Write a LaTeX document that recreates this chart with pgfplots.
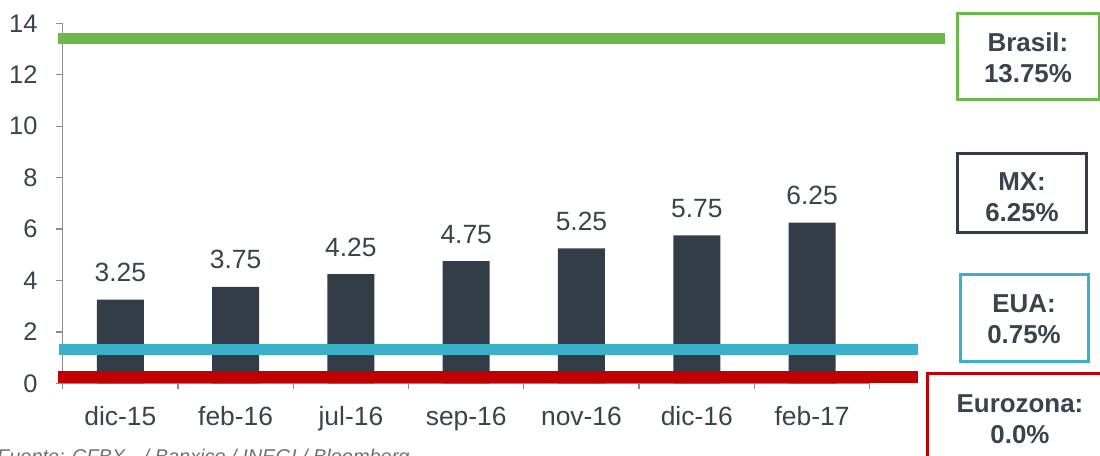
\documentclass[border=0pt]{standalone}
\usepackage{pgfplots}
\pgfplotsset{compat=1.18}
\usepackage{fontspec}
\setmainfont{Liberation Sans}
\definecolor{barc}{HTML}{343D47}
\definecolor{txt}{HTML}{38434E}
\definecolor{grn}{HTML}{6DB84B}
\definecolor{eua}{HTML}{3BB0C9}
\definecolor{ezred}{HTML}{C00000}
\definecolor{axg}{HTML}{8C8C8C}
\begin{document}
\begin{tikzpicture}
\useasboundingbox (0,0) rectangle (1100bp,456bp);
\begin{axis}[
  at={(62.7bp,72.7bp)}, anchor=south west,
  scale only axis, width=807bp, height=360bp,
  xmin=-0.5, xmax=6.5, ymin=0, ymax=14,
  clip=false,
  axis x line*=bottom, axis y line*=left,
  axis line style={axg, line width=1.3bp, -},
  xtick={0,1,2,3,4,5,6},
  xticklabels={dic-15,feb-16,jul-16,sep-16,nov-16,dic-16,feb-17},
  minor xtick={-0.5,0.5,1.5,2.5,3.5,4.5,5.5,6.5},
  major x tick style={draw=none},
  minor x tick style={axg, line width=1.3bp},
  minor tick length=6bp,
  ytick={0,2,...,14},
  major y tick style={axg, line width=1.3bp},
  major tick length=7bp,
  tick align=outside,
  xticklabel style={anchor=base, inner sep=0pt, yshift=-35bp, font=\fontsize{26.5}{31}\selectfont, text=txt},
  yticklabel style={anchor=east, inner sep=0pt, xshift=-18bp, font=\fontsize{25.5}{30}\selectfont, text=txt},
  /pgf/number format/assume math mode=true,
]
\addplot[ybar, bar width=47bp, fill=barc, draw=none,
  nodes near coords,
  nodes near coords style={anchor=base, inner sep=0pt, yshift=18bp, font=\fontsize{26.5}{31}\selectfont, text=txt, /pgf/number format/.cd, fixed, fixed zerofill, precision=2, assume math mode=true}]
  coordinates {(0,3.25) (1,3.75) (2,4.25) (3,4.75) (4,5.25) (5,5.75) (6,6.25)};
\addplot[eua, line width=11bp, line cap=butt] coordinates {(-0.535,1.31) (6.92,1.31)};
\addplot[ezred, line width=11.5bp, line cap=butt] coordinates {(-0.54,0.25) (6.92,0.25)};
\addplot[grn, line width=11bp, line cap=butt] coordinates {(-0.54,13.41) (7.15,13.41)};
\end{axis}
\draw[grn, line width=3bp] (957bp,442bp) rectangle (1099bp,356bp);
\draw[barc, line width=3bp] (957bp,302bp) rectangle (1086bp,223bp);
\draw[eua, line width=3bp] (960bp,181bp) rectangle (1088bp,94bp);
\draw[ezred, line width=3bp] (927bp,82bp) rectangle (1115bp,-30bp);
\node[align=center, text=txt, font=\bfseries\fontsize{26}{31}\selectfont, inner sep=0pt] at (1028bp,398.5bp) {Brasil:\\13.75\%};
\node[align=center, text=txt, font=\bfseries\fontsize{26}{31}\selectfont, inner sep=0pt] at (1022bp,258.5bp) {MX:\\6.25\%};
\node[align=center, text=txt, font=\bfseries\fontsize{26}{31}\selectfont, inner sep=0pt] at (1024bp,137bp) {EUA:\\0.75\%};
\node[align=center, text=txt, font=\bfseries\fontsize{26}{31}\selectfont, inner sep=0pt] at (1020bp,37bp) {Eurozona:\\0.0\%};
\node[anchor=base west, inner sep=0pt, text=axg!80!black, font=\itshape\fontsize{20}{24}\selectfont] at (-3bp,-7bp) {Fuente: CFBX.. / Banxico / INEGI / Bloomberg};
\end{tikzpicture}
\end{document}
